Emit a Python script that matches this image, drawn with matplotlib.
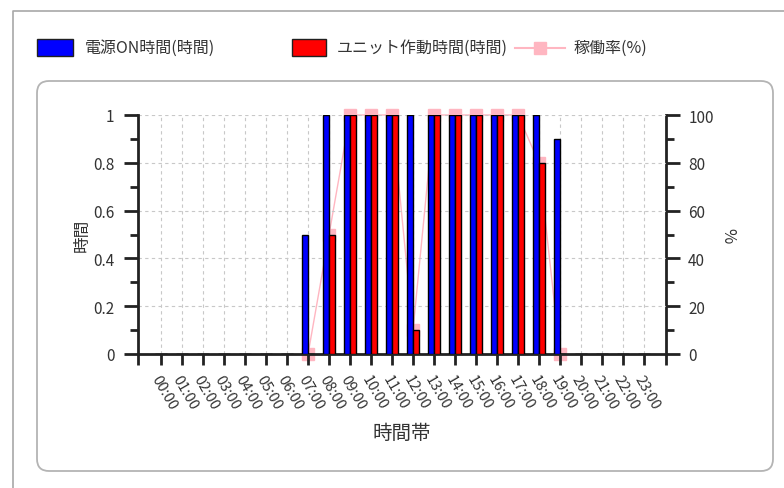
import matplotlib
matplotlib.use('Agg')
import matplotlib.pyplot as plt
import numpy as np
from matplotlib.patches import FancyBboxPatch, Rectangle
from matplotlib.lines import Line2D
from matplotlib.ticker import MultipleLocator, FixedLocator

plt.rcParams['font.family'] = ['Noto Sans CJK JP', 'DejaVu Sans']

hours = ['%02d:00' % h for h in range(24)]
power_on = [0, 0, 0, 0, 0, 0, 0, 0.5, 1, 1, 1, 1, 1, 1, 1, 1, 1, 1, 1, 0.9, 0, 0, 0, 0]
unit_run = [0, 0, 0, 0, 0, 0, 0, 0, 0.5, 1, 1, 1, 0.1, 1, 1, 1, 1, 1, 0.8, 0, 0, 0, 0, 0]
rate = [None, None, None, None, None, None, None, 0, 50, 100, 100, 100, 10,
        100, 100, 100, 100, 100, 80, 0, None, None, None, None]

labels = ['電源ON時間(時間)', 'ユニット作動時間(時間)', '稼働率(%)']
BLUE = '#0000ff'
RED = '#ff0000'
PINK = '#ffb6c1'
TXT = '#333333'
AX = '#222222'

W, H = 784, 489
fig = plt.figure(figsize=(W / 100, H / 100), dpi=100)

# background in pixel coordinates
bg = fig.add_axes([0, 0, 1, 1])
bg.set_zorder(-10)
bg.set_xlim(0, W)
bg.set_ylim(H, 0)
bg.axis('off')
bg.plot([13, 13, W + 5], [H + 5, 12, 12], color='#a8a8a8', lw=1.2)
bg.add_patch(FancyBboxPatch((37 + 12, 82 + 12), 736 - 24, 390 - 24,
                            boxstyle='round,pad=12', fc='white', ec='#b4b4b4', lw=1.3))

# legend drawn by hand
bg.add_patch(Rectangle((37, 40), 36, 17, fc=BLUE, ec='#202020', lw=1))
bg.text(85, 48.5, labels[0], fontsize=11.5, color=TXT, va='center', ha='left')
bg.add_patch(Rectangle((292, 40), 34, 17, fc=RED, ec='#202020', lw=1))
bg.text(337, 48.5, labels[1], fontsize=11.5, color=TXT, va='center', ha='left')
bg.add_line(Line2D([515, 565], [48.5, 48.5], color=PINK, lw=1.5))
bg.add_line(Line2D([540], [48.5], color=PINK, marker='s', ms=8, mec=PINK))
bg.text(573, 48.5, labels[2], fontsize=11.5, color=TXT, va='center', ha='left')

ax = fig.add_axes([138 / W, 1 - 355 / H, (666 - 138) / W, (355 - 116) / H])
ax2 = ax.twinx()
ax.set_zorder(2)
ax2.set_zorder(1)
ax.patch.set_visible(False)
ax2.patch.set_visible(False)

x = np.arange(len(hours))
bw = 0.28
ax.bar(x - bw / 2, power_on, bw, color=BLUE, edgecolor='black', lw=1, zorder=3)
ax.bar(x + bw / 2, unit_run, bw, color=RED, edgecolor='black', lw=1, zorder=3)

r = np.array([np.nan if v is None else v for v in rate], dtype=float)
ax2.plot(x, r, color=PINK, lw=1, marker='s', ms=8, mec=PINK, clip_on=False)

xmin, xmax = -1.1, 24.05
ax.set_xlim(xmin, xmax)
ax.set_ylim(0, 1)
ax2.set_ylim(0, 100)

ax.set_xticks(x)
ax.set_xticklabels(hours, rotation=-60, ha='left', va='top', rotation_mode='anchor',
                   fontsize=10.5, color=TXT)
ax.xaxis.set_minor_locator(FixedLocator([xmin, xmax]))
ax.set_yticks(np.arange(0, 1.01, 0.2))
ax.set_yticklabels(['0', '0.2', '0.4', '0.6', '0.8', '1'], fontsize=11, color=TXT)
ax.yaxis.set_minor_locator(MultipleLocator(0.1))
ax2.set_yticks(np.arange(0, 101, 20))
ax2.set_yticklabels([str(v) for v in range(0, 101, 20)], fontsize=11, color=TXT)
ax2.yaxis.set_minor_locator(MultipleLocator(10))

ax.grid(True, which='major', color='#c8c8c8', linestyle=(0, (3, 3)), lw=0.8, zorder=0)
ax.set_axisbelow(True)

for s in ['top', 'right']:
    ax.spines[s].set_visible(False)
for s in ['top', 'left', 'bottom']:
    ax2.spines[s].set_visible(False)
for s in [ax.spines['left'], ax.spines['bottom'], ax2.spines['right']]:
    s.set_linewidth(2)
    s.set_color(AX)

ax.tick_params(axis='y', which='major', length=10, width=2, pad=7, color=AX)
ax.tick_params(axis='y', which='minor', length=6, width=2, color=AX)
ax.tick_params(axis='x', which='both', length=8, width=2, pad=5, color=AX)
ax2.tick_params(axis='y', which='major', length=10, width=2, pad=6, color=AX)
ax2.tick_params(axis='y', which='minor', length=6, width=2, color=AX)

ax.set_xlabel('時間帯', fontsize=14, color=TXT, labelpad=8)
ax.set_ylabel('時間', fontsize=12, color=TXT, labelpad=2)
ax2.set_ylabel('%', fontsize=12, color=TXT, labelpad=4, rotation=-90, va='bottom')

fig.savefig('out.png', dpi=100)
